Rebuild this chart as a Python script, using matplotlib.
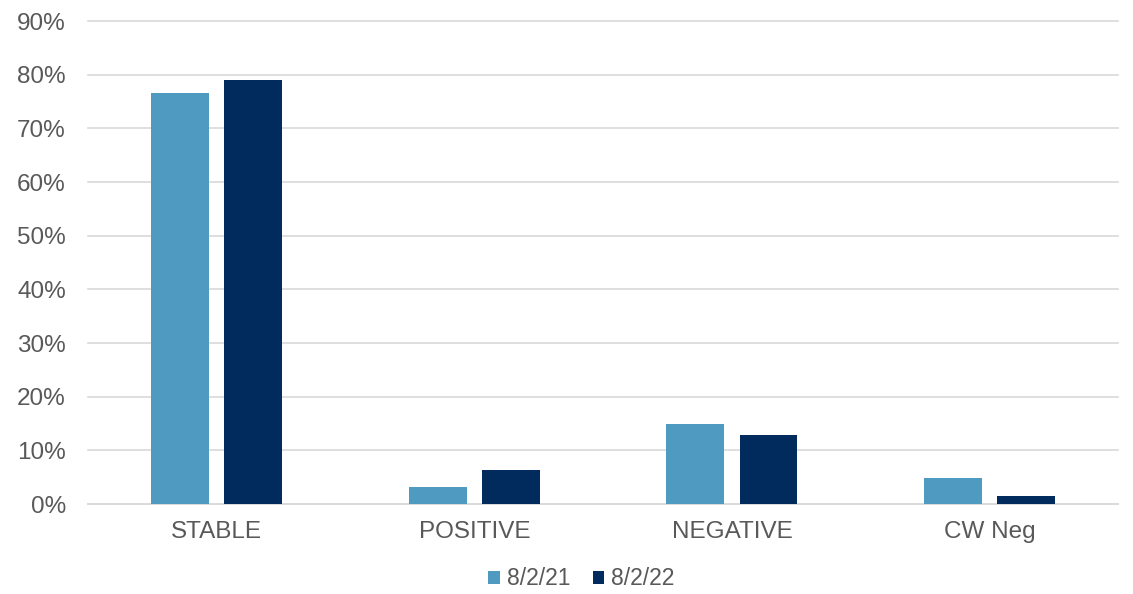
import numpy as np
import matplotlib.pyplot as plt
from matplotlib.ticker import FuncFormatter

plt.rcParams["font.family"] = ["Liberation Sans", "DejaVu Sans"]

categories = ["STABLE", "POSITIVE", "NEGATIVE", "CW Neg"]
series_names = ["8/2/21", "8/2/22"]
values_2021 = [0.766, 0.032, 0.149, 0.049]
values_2022 = [0.790, 0.064, 0.128, 0.015]
colors = ["#4F9AC1", "#002B5C"]

fig = plt.figure(figsize=(11.33, 5.94), dpi=100)
ax = fig.add_axes([0.0777, 0.1515, 0.9093, 0.8131])

x = np.arange(len(categories))
w = 0.225
ax.bar(x - 0.142, values_2021, w, color=colors[0], label=series_names[0], zorder=3)
ax.bar(x + 0.142, values_2022, w, color=colors[1], label=series_names[1], zorder=3)

ax.set_xlim(-0.5, len(categories) - 0.5)
ax.set_ylim(0, 0.9)
ax.set_yticks(np.arange(0, 0.91, 0.1))
ax.yaxis.set_major_formatter(FuncFormatter(lambda v, p: f"{v*100:.0f}%"))
ax.set_xticks(x)
ax.set_xticklabels(categories)
ax.grid(axis="y", color="#D9D9D9", linewidth=1.2, zorder=0)
for gl in ax.get_ygridlines():
    gl.set_clip_on(False)
for s in ["top", "right", "left"]:
    ax.spines[s].set_visible(False)
ax.spines["bottom"].set_color("#D9D9D9")
ax.spines["bottom"].set_linewidth(1.2)
ax.tick_params(axis="both", length=0, labelsize=17.5, labelcolor="#595959")
ax.tick_params(axis="x", pad=12)
ax.tick_params(axis="y", pad=16)

ax.legend(loc="lower center", bbox_to_anchor=(0.479, -0.212), ncol=2, frameon=False,
          fontsize=16.5, labelcolor="#595959", handlelength=0.5, handleheight=0.5,
          handletextpad=0.3, columnspacing=1.0, borderpad=0.2)

fig.savefig("out.png", dpi=100)
